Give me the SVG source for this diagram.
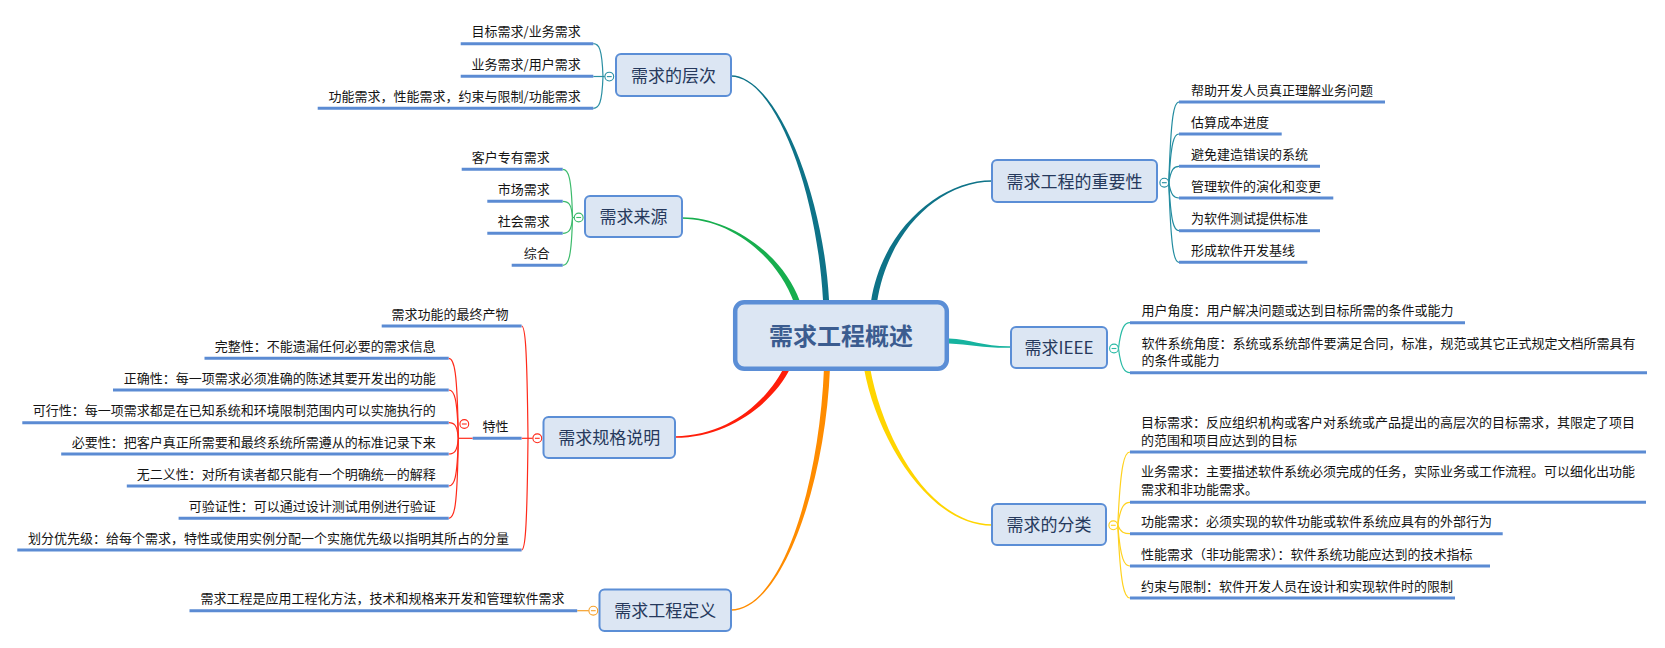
<svg xmlns="http://www.w3.org/2000/svg" xmlns:xlink="http://www.w3.org/1999/xlink" width="1665" height="648" viewBox="0 0 1665 648">
<style>
text{font-family:"Noto Sans CJK SC","Noto Sans",sans-serif}
.box{fill:#DCE6F3;stroke:#5B8ED6;stroke-width:2}
.t1{font-size:17px;fill:#26395C;text-anchor:middle}
.leaf{font-size:13px;fill:#141414}
.l{text-anchor:end}
.ul{stroke:#5B8BD3;stroke-width:3;fill:none}
.c{fill:none;stroke-width:1.2}
</style>
<defs>
<g id="tg" stroke-width="1.1"><circle r="4.4" fill="#fff"/><path d="M-2.4,0H2.4" fill="none"/></g>
</defs>
<rect width="1665" height="648" fill="#fff"/>

<g id="connectors">
<!-- main tapered branches -->
<path fill="#0E7388" d="M731,75.2 C775,75.2 823,189.8 829,299.8 L829.6,312 L823.6,312 L823,300.2 C817,190.2 775,76.8 731,76.8 Z"/>
<path fill="#17AE4E" d="M682,217.2 C730,217.2 782.8,254 799.8,301 L803.2,310.4 L797.6,312.4 L794.2,303 C777.2,256 730,218.8 682,218.8 Z"/>
<path fill="#FF1E0A" d="M675,436.2 C730,436.2 769.3,398.7 785.3,364.7 L789.6,355.7 L795,358.3 L790.7,367.3 C774.7,401.3 730,437.8 675,437.8 Z"/>
<path fill="#FF8C00" d="M731,609.2 C780,609.2 819,489.9 824,367.9 L824.4,357.9 L830.4,358.1 L830,368.1 C825,490.1 780,610.8 731,610.8 Z"/>
<path fill="#0E7388" d="M992,181.8 C940,181.8 888,230.5 877,302.5 L875.5,312.4 L869.5,311.4 L871,301.5 C882,229.5 940,180.2 992,180.2 Z"/>
<path fill="#16B39F" d="M1011,346.2 C985,346.7 970,339.5 949,338.5 L939,338.5 L939,343.5 L949,343.5 C970,344.5 985,348.3 1011,347.8 Z"/>
<path fill="#FFD500" d="M992,525.8 C930,525.8 877,440.5 864,368.5 L862.2,358.7 L868.2,357.7 L870,367.5 C883,439.5 930,524.2 992,524.2 Z"/>

<!-- 需求的层次 children -->
<g class="c" stroke="#2A8FA3">
<path d="M604.8,76.5 L593.3,76.5"/>
<path d="M603,76.5 C602,48.6 599,43.7 593.3,43.7"/>
<path d="M603,76.5 C602,103.6 599,108.3 593.3,108.3"/>
</g>
<!-- 需求来源 children -->
<g class="c" stroke="#3DBB6C">
<path d="M574.2,217.5 L572.5,217.5"/>
<path d="M572.5,217.5 C571.5,176.5 568.5,169.3 562.7,169.3"/>
<path d="M572.5,217.5 C571.5,203.7 568.5,201.3 562.7,201.3"/>
<path d="M572.5,217.5 C571.5,231 568.5,233.3 562.7,233.3"/>
<path d="M572.5,217.5 C571.5,258 568.5,265.3 562.7,265.3"/>
</g>
<!-- 需求规格说明 children -->
<g class="c" stroke="#FF2A1A">
<path d="M532.8,438.3 L521.6,438.3"/>
<path d="M528,438.3 C527,343 525,326 521.6,326"/>
<path d="M528,438.3 C527,533 525,550 521.6,550"/>
<path d="M472.7,438.3 L458.3,438.3"/>
<path d="M458.3,438.3 C457.3,370.3 454.3,358.3 448.7,358.3"/>
<path d="M458.3,438.3 C457.3,397.2 454.3,390 448.7,390"/>
<path d="M458.3,438.3 C457.3,425 454.3,422.7 448.7,422.7"/>
<path d="M458.3,438.3 C457.3,451.6 454.3,454 448.7,454"/>
<path d="M458.3,438.3 C457.3,478.8 454.3,486 448.7,486"/>
<path d="M458.3,438.3 C457.3,509.3 454.3,518.3 448.7,518.3"/>
</g>
<!-- 需求工程定义 child -->
<g class="c" stroke="#F5A02A">
<path d="M588.8,610.7 L577.2,610.7"/>
</g>
<!-- 需求工程的重要性 children -->
<g class="c" stroke="#238CA0">
<path d="M1168.8,182.7 C1171,114.1 1174,102 1179,102"/>
<path d="M1168.8,182.7 C1171,141.3 1174,134 1179,134"/>
<path d="M1168.8,182.7 C1171,168.8 1174,166.3 1179,166.3"/>
<path d="M1168.8,182.7 C1171,195.7 1174,198 1179,198"/>
<path d="M1168.8,182.7 C1171,223.5 1174,230.7 1179,230.7"/>
<path d="M1168.8,182.7 C1171,250.4 1174,262.3 1179,262.3"/>
</g>
<!-- 需求IEEE children -->
<g class="c" stroke="#2BBBA6">
<path d="M1118.5,348.5 C1121,326.6 1125,322.7 1130,322.7"/>
<path d="M1118.5,348.5 C1121,369.1 1125,372.7 1130,372.7"/>
</g>
<!-- 需求的分类 children -->
<g class="c" stroke="#FFD21F">
<path d="M1117.8,525.3 C1120.5,463 1124.5,452 1130,452"/>
<path d="M1117.8,525.3 C1120.5,505.8 1124.5,502.3 1130,502.3"/>
<path d="M1117.8,525.3 C1120.5,532.4 1124.5,533.7 1130,533.7"/>
<path d="M1117.8,525.3 C1120.5,559.9 1124.5,566 1130,566"/>
<path d="M1117.8,525.3 C1120.5,587.1 1124.5,598 1130,598"/>
</g>
</g>

<!-- central -->
<g id="root">
<rect x="735.2" y="302.2" width="211.6" height="66.6" rx="9" fill="#DCE6F3" stroke="#5B8ED6" stroke-width="4.5"/>
<text x="841" y="345" font-size="24" font-weight="bold" fill="#3B5C8F" text-anchor="middle">需求工程概述</text>
</g>

<!-- main nodes -->
<g id="n-cengci">
<rect class="box" x="616" y="54" width="115" height="42" rx="5"/>
<text class="t1" x="673.5" y="81.5">需求的层次</text>
<use xlink:href="#tg" x="609.3" y="76.6" stroke="#2A8FA3"/>
</g>
<g id="n-laiyuan">
<rect class="box" x="585" y="196" width="97" height="41" rx="5"/>
<text class="t1" x="633.5" y="222.5">需求来源</text>
<use xlink:href="#tg" x="578.7" y="217.5" stroke="#3DBB6C"/>
</g>
<g id="n-guige">
<rect class="box" x="543.5" y="417" width="131.5" height="41" rx="5"/>
<text class="t1" x="609.3" y="443.5">需求规格说明</text>
<use xlink:href="#tg" x="537.3" y="438.3" stroke="#FF2A1A"/>
</g>
<g id="n-dingyi">
<rect class="box" x="599.5" y="589.5" width="131.5" height="41.5" rx="5"/>
<text class="t1" x="665.3" y="616.5">需求工程定义</text>
<use xlink:href="#tg" x="593.3" y="610.7" stroke="#F5A02A"/>
</g>
<g id="n-zhongyao">
<rect class="box" x="992" y="160" width="165" height="42" rx="5"/>
<text class="t1" x="1074.5" y="187.5">需求工程的重要性</text>
<use xlink:href="#tg" x="1164.3" y="182.7" stroke="#238CA0"/>
</g>
<g id="n-ieee">
<rect class="box" x="1011" y="327" width="96" height="41" rx="5"/>
<text class="t1" x="1059" y="353.5">需求IEEE</text>
<use xlink:href="#tg" x="1114" y="348.5" stroke="#2BBBA6"/>
</g>
<g id="n-fenlei">
<rect class="box" x="992" y="504" width="114" height="41" rx="5"/>
<text class="t1" x="1049" y="530.5">需求的分类</text>
<use xlink:href="#tg" x="1113.3" y="525.3" stroke="#FFD21F"/>
</g>

<!-- leaves: 需求的层次 -->
<g id="l-cengci-1"><path class="ul" d="M460.7,43.7H593.3"/><text class="leaf l" x="580.7" y="36.2">目标需求/业务需求</text></g>
<g id="l-cengci-2"><path class="ul" d="M460.7,76.3H593.3"/><text class="leaf l" x="580.7" y="68.8">业务需求/用户需求</text></g>
<g id="l-cengci-3"><path class="ul" d="M317.7,108.3H593.3"/><text class="leaf l" x="580.7" y="100.8">功能需求，性能需求，约束与限制/功能需求</text></g>

<!-- leaves: 需求来源 -->
<g id="l-laiyuan-1"><path class="ul" d="M461.7,169.3H562.7"/><text class="leaf l" x="549.7" y="161.8">客户专有需求</text></g>
<g id="l-laiyuan-2"><path class="ul" d="M487.3,201.3H562.7"/><text class="leaf l" x="549.7" y="193.8">市场需求</text></g>
<g id="l-laiyuan-3"><path class="ul" d="M487.3,233.3H562.7"/><text class="leaf l" x="549.7" y="225.8">社会需求</text></g>
<g id="l-laiyuan-4"><path class="ul" d="M511.7,265.3H562.7"/><text class="leaf l" x="549.7" y="257.8">综合</text></g>

<!-- leaves: 需求规格说明 -->
<g id="l-guige-1"><path class="ul" d="M381.7,326H521.6"/><text class="leaf l" x="508.6" y="318.5">需求功能的最终产物</text></g>
<g id="l-guige-2"><path class="ul" d="M472.7,438.3H521.6"/><text class="leaf l" x="508.6" y="430.8">特性</text><use xlink:href="#tg" x="464.3" y="424" stroke="#FF2A1A"/></g>
<g id="l-guige-3"><path class="ul" d="M17.3,550H521.6"/><text class="leaf l" x="509" y="542.5">划分优先级：给每个需求，特性或使用实例分配一个实施优先级以指明其所占的分量</text></g>

<!-- leaves: 特性 -->
<g id="l-tx-1"><path class="ul" d="M204.5,358.3H448.7"/><text class="leaf l" x="435.7" y="350.8">完整性：不能遗漏任何必要的需求信息</text></g>
<g id="l-tx-2"><path class="ul" d="M113,390H448.7"/><text class="leaf l" x="435.7" y="382.5">正确性：每一项需求必须准确的陈述其要开发出的功能</text></g>
<g id="l-tx-3"><path class="ul" d="M22.3,422.7H448.7"/><text class="leaf l" x="435.7" y="415.2">可行性：每一项需求都是在已知系统和环境限制范围内可以实施执行的</text></g>
<g id="l-tx-4"><path class="ul" d="M61.2,454H448.7"/><text class="leaf l" x="435.7" y="446.5">必要性：把客户真正所需要和最终系统所需遵从的标准记录下来</text></g>
<g id="l-tx-5"><path class="ul" d="M126.8,486H448.7"/><text class="leaf l" x="435.7" y="478.5">无二义性：对所有读者都只能有一个明确统一的解释</text></g>
<g id="l-tx-6"><path class="ul" d="M178.6,518.3H448.7"/><text class="leaf l" x="435.7" y="510.8">可验证性：可以通过设计测试用例进行验证</text></g>

<!-- leaves: 需求工程定义 -->
<g id="l-dingyi-1"><path class="ul" d="M189.5,610.7H577.2"/><text class="leaf l" x="564.6" y="603.2">需求工程是应用工程化方法，技术和规格来开发和管理软件需求</text></g>

<!-- leaves: 需求工程的重要性 -->
<g id="l-zy-1"><path class="ul" d="M1179,102H1385"/><text class="leaf" x="1191" y="94.5">帮助开发人员真正理解业务问题</text></g>
<g id="l-zy-2"><path class="ul" d="M1179,134H1281.7"/><text class="leaf" x="1191" y="126.5">估算成本进度</text></g>
<g id="l-zy-3"><path class="ul" d="M1179,166.3H1320"/><text class="leaf" x="1191" y="158.8">避免建造错误的系统</text></g>
<g id="l-zy-4"><path class="ul" d="M1179,198H1333.3"/><text class="leaf" x="1191" y="190.5">管理软件的演化和变更</text></g>
<g id="l-zy-5"><path class="ul" d="M1179,230.7H1320"/><text class="leaf" x="1191" y="223.2">为软件测试提供标准</text></g>
<g id="l-zy-6"><path class="ul" d="M1179,262.3H1307.3"/><text class="leaf" x="1191" y="254.8">形成软件开发基线</text></g>

<!-- leaves: 需求IEEE -->
<g id="l-ieee-1"><path class="ul" d="M1130,322.7H1465"/><text class="leaf" x="1141.6" y="315.2">用户角度：用户解决问题或达到目标所需的条件或能力</text></g>
<g id="l-ieee-2"><path class="ul" d="M1130,372.7H1647"/><text class="leaf" x="1141.6" y="347.5">软件系统角度：系统或系统部件要满足合同，标准，规范或其它正式规定文档所需具有<tspan x="1141.6" y="365.2">的条件或能力</tspan></text></g>

<!-- leaves: 需求的分类 -->
<g id="l-fl-1"><path class="ul" d="M1130,452H1646"/><text class="leaf" x="1141" y="426.7">目标需求：反应组织机构或客户对系统或产品提出的高层次的目标需求，其限定了项目<tspan x="1141" y="444.5">的范围和项目应达到的目标</tspan></text></g>
<g id="l-fl-2"><path class="ul" d="M1130,502.3H1646"/><text class="leaf" x="1141" y="475.7">业务需求：主要描述软件系统必须完成的任务，实际业务或工作流程。可以细化出功能<tspan x="1141" y="493.5">需求和非功能需求。</tspan></text></g>
<g id="l-fl-3"><path class="ul" d="M1130,533.7H1502.7"/><text class="leaf" x="1141" y="526.2">功能需求：必须实现的软件功能或软件系统应具有的外部行为</text></g>
<g id="l-fl-4"><path class="ul" d="M1130,566H1490"/><text class="leaf" x="1141" y="558.5">性能需求（非功能需求）：软件系统功能应达到的技术指标</text></g>
<g id="l-fl-5"><path class="ul" d="M1130,598H1455"/><text class="leaf" x="1141" y="590.5">约束与限制：软件开发人员在设计和实现软件时的限制</text></g>
</svg>
